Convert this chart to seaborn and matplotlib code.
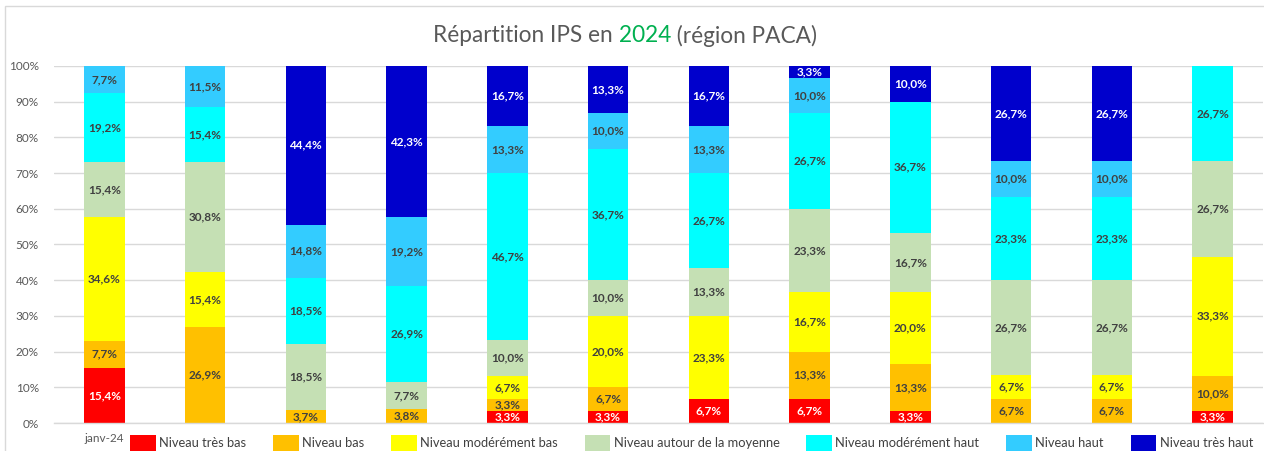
import numpy as np
import pandas as pd
import matplotlib
matplotlib.use("Agg")
import matplotlib.pyplot as plt
from matplotlib.patches import Patch, Rectangle
import seaborn as sns

# ---------------- data ----------------
months = ["janv-24", "févr-24", "mars-24", "avr-24", "mai-24", "juin-24",
          "juil-24", "août-24", "sept-24", "oct-24", "nov-24", "déc-24"]
tick_labels = ["janv-24", "", "", "", "", "", "", "", "", "", "", ""]

series_names = ["Niveau très bas", "Niveau bas", "Niveau modérément bas",
                "Niveau autour de la moyenne", "Niveau modérément haut",
                "Niveau haut", "Niveau très haut"]

tres_bas = [15.4, 0, 0, 0, 3.3, 3.3, 6.7, 6.7, 3.3, 0, 0, 3.3]
bas = [7.7, 26.9, 3.7, 3.8, 3.3, 6.7, 0, 13.3, 13.3, 6.7, 6.7, 10.0]
mod_bas = [34.6, 15.4, 0, 0, 6.7, 20.0, 23.3, 16.7, 20.0, 6.7, 6.7, 33.3]
moyenne = [15.4, 30.8, 18.5, 7.7, 10.0, 10.0, 13.3, 23.3, 16.7, 26.7, 26.7, 26.7]
mod_haut = [19.2, 15.4, 18.5, 26.9, 46.7, 36.7, 26.7, 26.7, 36.7, 23.3, 23.3, 26.7]
haut = [7.7, 11.5, 14.8, 19.2, 13.3, 10.0, 13.3, 10.0, 0, 10.0, 10.0, 0]
tres_haut = [0, 0, 44.4, 42.3, 16.7, 13.3, 16.7, 3.3, 10.0, 26.7, 26.7, 0]

colors = ["#FF0000", "#FFC000", "#FFFF00", "#C5E0B4", "#00FFFF", "#33CCFF", "#0000CC"]
label_colors = ["white", "#404040", "#404040", "#404040", "#404040", "#404040", "white"]

title_parts = ["Répartition IPS en ", "2024", " (région PACA)"]
title_colors = ["#595959", "#00B050", "#595959"]

# ---------------- build ----------------
values = np.array([tres_bas, bas, mod_bas, moyenne, mod_haut, haut, tres_haut], dtype=float)
totals = values.sum(axis=0)
share = values / totals * 100.0          # 100 % stacked
cum = np.cumsum(share, axis=0)

df = pd.DataFrame({"mois": months})
for i, name in enumerate(series_names):
    df[name] = cum[i]

sns.set_theme(style="white")
plt.rcParams["font.family"] = ["Lato", "DejaVu Sans"]

W, H = 1264, 451
fig = plt.figure(figsize=(W / 100, H / 100), dpi=100)
ax = fig.add_axes([54 / W, (H - 423) / H, (1263 - 54) / W, (423 - 66) / H])

# draw tallest cumulative first, shorter ones on top
for i in range(len(series_names) - 1, -1, -1):
    sns.barplot(data=df, x="mois", y=series_names[i], order=months,
                color=colors[i], width=0.4, saturation=1, ax=ax,
                linewidth=0, zorder=2)

# data labels
for i in range(len(series_names)):
    for j in range(len(months)):
        v = values[i, j]
        if v <= 0:
            continue
        yc = cum[i, j] - share[i, j] / 2
        txt = f"{v:.1f}".replace(".", ",") + "%"
        ax.text(j, yc, txt, ha="center", va="center", fontsize=8.5,
                fontweight="bold", color=label_colors[i], zorder=5)

# axes styling
ax.set_xlim(-0.5, len(months) - 0.5)
ax.set_ylim(0, 100)
ax.set_yticks(np.arange(0, 101, 10))
ax.set_yticklabels([f"{t}%" for t in range(0, 101, 10)])
ax.set_xticks(range(len(months)))
ax.set_xticklabels(tick_labels)
ax.set_xticks(np.arange(-0.5, len(months), 1.0), minor=True)
ax.tick_params(axis="x", which="major", length=0, pad=7, labelsize=8.5, labelcolor="#595959")
ax.tick_params(axis="x", which="minor", length=5, width=1, color="#D9D9D9", direction="out")
ax.tick_params(axis="y", length=0, pad=11, labelsize=8.5, labelcolor="#595959")
ax.set_xlabel("")
ax.set_ylabel("")
ax.grid(axis="y", color="#D9D9D9", linewidth=1, zorder=0)
ax.set_axisbelow(True)
for s in ["top", "right", "left"]:
    ax.spines[s].set_visible(False)
ax.spines["bottom"].set_color("#D9D9D9")
ax.spines["bottom"].set_linewidth(1)

# legend
handles = [Patch(facecolor=c, edgecolor="none", label=n) for c, n in zip(colors, series_names)]
fig.legend(handles=handles, loc="lower left",
           bbox_to_anchor=(130 / W, 0, (1253 - 130) / W, 20 / H), mode="expand",
           ncol=7, frameon=False, fontsize=9.3, handlelength=2.0, handleheight=1.5,
           handletextpad=0.25, borderaxespad=0, borderpad=0,
           labelcolor="#404040")

# outer border
fig.patches.append(Rectangle((5 / W, -0.05), 1.1, (H - 6) / H + 0.05,
                             transform=fig.transFigure, fill=False,
                             edgecolor="#D9D9D9", linewidth=1, zorder=0))

# multi-coloured title
renderer = fig.canvas.get_renderer()
ty = (H - 36) / H
texts = [fig.text(0, ty, s, color=c, fontsize=16.3, ha="left", va="center")
         for s, c in zip(title_parts, title_colors)]
widths = [t.get_window_extent(renderer).width for t in texts]
x0 = 625 - sum(widths) / 2
for t, w in zip(texts, widths):
    t.set_x(x0 / W)
    x0 += w

fig.savefig("out.png", dpi=100)
